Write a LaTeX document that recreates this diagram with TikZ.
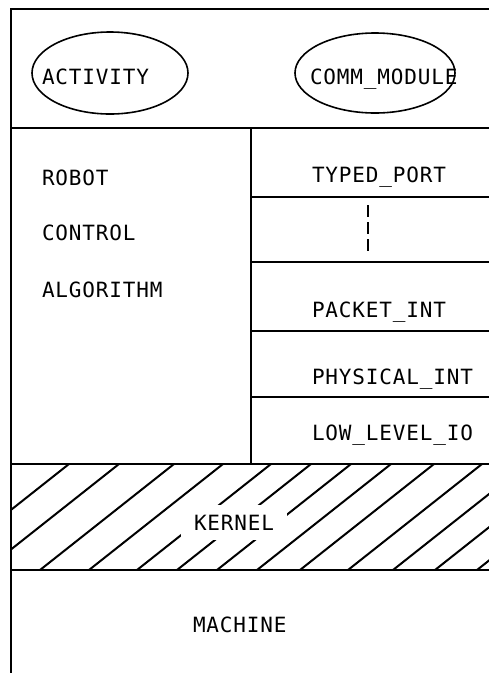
\documentclass[tikz,border=0pt]{standalone}
\usepackage{fontspec}
\newfontfamily\termfont[LetterSpace=4]{DejaVu Sans Mono}

\begin{document}
\begin{tikzpicture}[x=1pt, y=-1pt, line width=2pt,
    lbl/.style={font=\termfont\fontsize{21}{23}\selectfont, anchor=base west, inner sep=0pt}]
    \useasboundingbox (0,0) rectangle (489,673);

    % Outer frame, open to the right and at the bottom
    \draw (489,9) -- (11,9) -- (11,673);

    % Layer boundaries
    \draw (11,128) -- (489,128);
    \draw (11,464) -- (489,464);
    \draw (11,570) -- (489,570);
    \draw (251,128) -- (251,464);
    \foreach \y in {197,262,331,397}
        \draw (251,\y) -- (489,\y);

    % Top layer: the two modules
    \draw[line width=1.6pt] (110,73) ellipse (78pt and 41pt);
    \draw[line width=1.6pt] (375,73) ellipse (80pt and 40pt);
    \node[lbl] (activity) at (41,84) {ACTIVITY};
    \node[lbl] (comm) at (309,84) {COMM\_MODULE};

    % Application column
    \node[lbl] (robot) at (41,185) {ROBOT};
    \node[lbl] (control) at (41,240) {CONTROL};
    \node[lbl] (algorithm) at (41,297) {ALGORITHM};

    % Protocol stack
    \node[lbl] (typedport) at (311,182) {TYPED\_PORT};
    \draw[dash pattern=on 12pt off 5pt] (368,205) -- (368,252);
    \node[lbl] (packetint) at (311,317) {PACKET\_INT};
    \node[lbl] (physint) at (311,384) {PHYSICAL\_INT};
    \node[lbl] (lowio) at (311,440) {LOW\_LEVEL\_IO};

    % Hatched kernel band
    \begin{scope}
        \clip (11,464) rectangle (489,570);
        \foreach \b in {-65,-15,40,89,137,177,217,257,300,348,393,435,477,520}
            \draw (\b,570) -- ++(134,-106);
    \end{scope}
    \node[lbl, fill=white, inner xsep=13pt, inner ysep=10pt] (kernel) at (180,530) {KERNEL};

    % Bottom layer
    \node[lbl] (machine) at (192,632) {MACHINE};
\end{tikzpicture}
\end{document}
